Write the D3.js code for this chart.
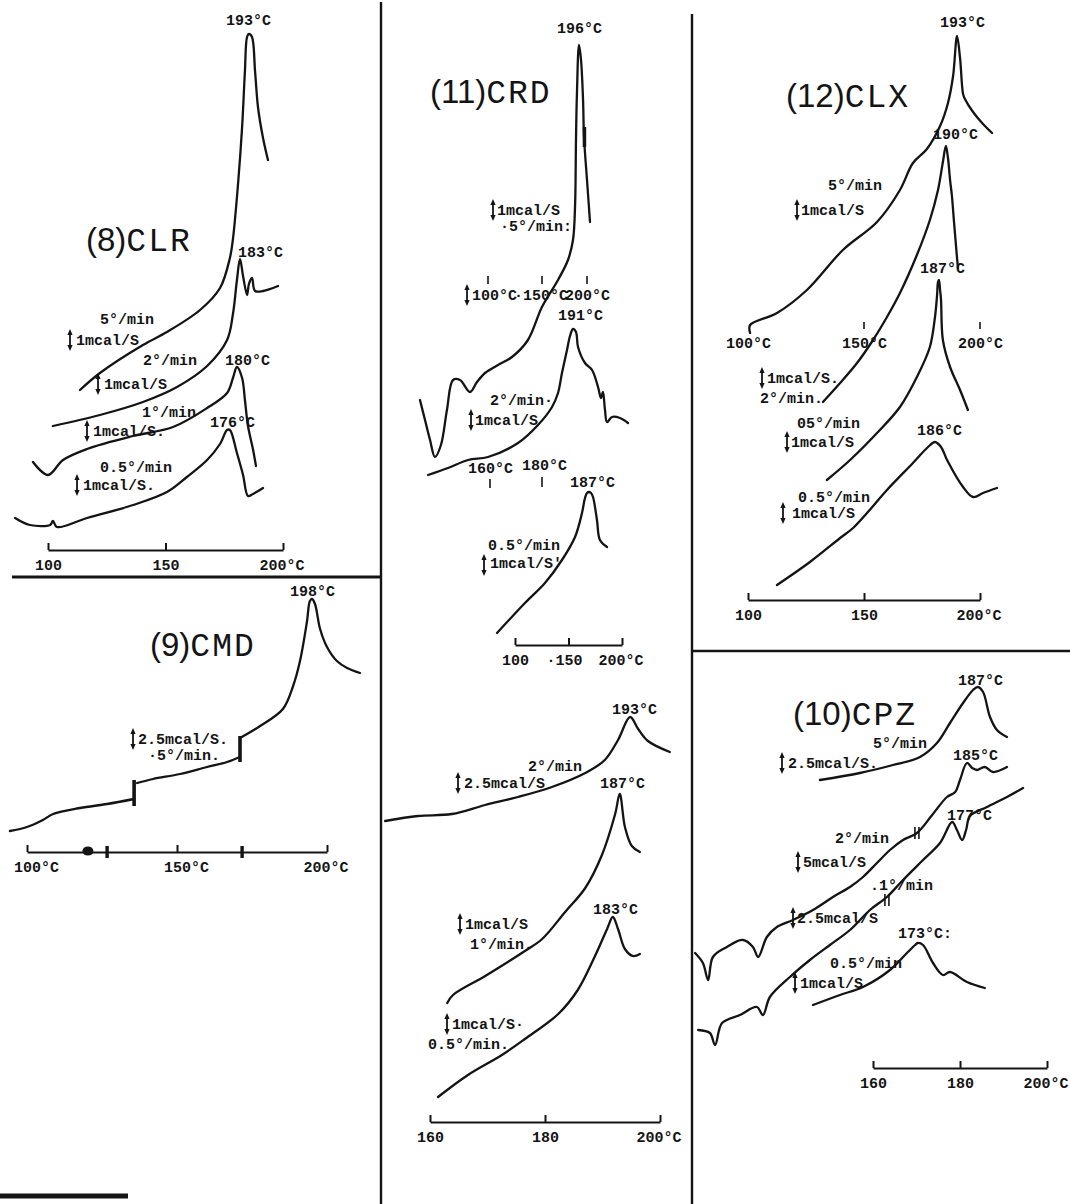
<!DOCTYPE html>
<html><head><meta charset="utf-8">
<script src="https://cdn.jsdelivr.net/npm/d3@7"></script>
<style>
body{margin:0;background:#fff;}
svg{display:block;background:#fff}
.lbl{font-family:"Liberation Mono","DejaVu Sans Mono",monospace;font-weight:bold;font-size:15px;fill:#141414}
.ttl{font-size:33px;fill:#141414}
.curve{fill:none;stroke:#141414;stroke-width:2.3;stroke-linejoin:round;stroke-linecap:round}
.axis path,.axis line{stroke:#141414;stroke-width:2}
.axis text{font-family:"Liberation Mono","DejaVu Sans Mono",monospace;font-weight:bold;font-size:15px;fill:#141414}
</style></head><body>
<svg id="c" width="1070" height="1204"></svg>
<script>
// ---------------- DATA (temperature °C, heat flow in arbitrary units) ----------------
// (8) CLR
const clrRates = ["5°/min", "2°/min", "1°/min", "0.5°/min"];
const clrPeaks = [193, 183, 180, 176];
const clr5 = [[113.6,16.0],[122.1,17.7],[140.4,20.5],[150.6,21.8],[164.7,24.0],[173.2,26.2],[177.4,29.2],[178.7,31.1],[180.9,36.7],[182.6,42.3],[183.8,47.9],[184.7,51.3],[185.5,51.6],[186.8,51.3],[188.1,47.9],[189.4,44.2],[191.5,41.2],[193.6,39.0]];
const clr2 = [[102.1,12.4],[122.1,13.5],[140.4,14.8],[154.9,16.3],[167.7,18.4],[176.2,21.0],[178.7,23.6],[180.4,27.0],[181.7,29.1],[183.0,27.4],[184.7,25.5],[185.5,26.6],[186.8,27.2],[188.1,25.9],[191.5,25.9],[197.9,26.4]];
const clr1 = [[93.6,8.8],[100,7.5],[106.4,9.0],[116.6,10.1],[136.2,11.4],[153.2,12.3],[167.7,14.2],[176.2,15.7],[178.7,17.2],[180.4,18.3],[182.6,17.2],[183.8,15.0],[185.1,12.4],[187.2,10.1],[188.5,8.4]];
const clr05 = [[86.0,3.2],[92.3,2.5],[100.9,2.5],[102.1,2.9],[103.8,2.3],[116.6,3.2],[136.2,4.5],[150.6,5.8],[159.1,7.3],[167.7,9.0],[173.2,10.6],[176.2,12.0],[177.4,12.0],[180.4,9.7],[183.0,7.5],[185.1,5.4],[187.2,5.6],[191.5,6.2]];
const clrTicks = [100, 150, 200];
const clrTickLabels = ["100", "150", "200°C"];

// (12) CLX
const clxRates = ["5°/min", "2°/min.", "05°/min", "0.5°/min"];
const clxPeaks = [193, 190, 187, 186];
const clx5 = [[100.9,26.7],[100.9,27.5],[112.5,28.7],[125.4,31.0],[140.9,35.0],[155.6,37.8],[165.5,41.0],[171.1,43.7],[177.1,45.1],[182.8,47.4],[186.2,49.7],[188.4,52.4],[190.1,56.4],[191.4,54.2],[192.7,50.6],[193.5,50.1],[197.0,48.8],[201.3,47.6],[205.2,46.7]];
const clx2 = [[132.3,19.8],[139.7,21.7],[147.0,23.7],[153.9,26.0],[159.9,28.3],[165.5,30.7],[172.8,34.5],[178.4,38.0],[181.9,41.0],[184.0,43.8],[185.3,45.4],[186.2,44.2],[187.1,42.0],[187.9,40.4],[188.8,37.8],[190.1,34.2],[190.5,33.2]];
const clx05a = [[134.0,12.0],[144.0,14.0],[155.6,16.7],[165.5,19.3],[172.8,22.3],[178.4,25.3],[180.6,28.3],[181.5,30.5],[181.9,31.8],[182.3,32.0],[182.8,31.0],[183.2,30.0],[184.0,26.0],[187.1,23.3],[191.4,21.0],[194.8,19.0]];
const clx05b = [[112.5,1.5],[126.7,3.8],[139.7,6.2],[145.3,7.2],[151.3,8.7],[159.9,11.0],[171.1,13.7],[177.6,15.3],[180.6,15.8],[183.2,15.3],[185.8,14.0],[192.7,11.3],[197.0,10.3],[201.3,10.7],[207.3,11.2]];
const clxInlineTicks = [100, 150, 200];
const clxTicks = [100, 150, 200];
const clxTickLabels = ["100", "150", "200°C"];

// (11) CRD
const crdRates = ["5°/min", "2°/min", "0.5°/min"];
const crdPeaks = [196, 191, 187];
const crd5 = [[11.2,24.5],[15.9,22.5],[20.6,20.5],[25.2,18.8],[30.8,20.0],[36.4,23.5],[42.1,26.5],[48.6,26.5],[57.9,25.3],[64.5,26.3],[72.0,27.2],[84.1,28.0],[97.2,28.8],[112.1,30.5],[125.2,33.8],[140.2,36.5],[149.5,38.5],[154.2,40.5],[156.1,43.8],[157.0,50.5],[157.9,55.2],[159.8,60.0],[161.7,58.5],[163.6,54.5],[164.5,50.8],[167.3,46.5],[170.1,42.3]];
const crd2 = [[18.7,17.0],[37.4,17.7],[56.1,18.5],[74.8,18.8],[102.8,20.2],[121.5,22.0],[134.6,23.8],[140.2,25.2],[143.9,27.2],[148.6,29.5],[151.4,30.9],[154.2,31.6],[157.0,31.3],[158.9,29.8],[165.4,28.2],[172.0,27.5],[177.6,25.8],[180.4,24.7],[182.2,25.3],[184.1,23.5],[186.0,22.3],[190.7,22.8],[198.1,22.7],[205.6,22.2]];
const crd05 = [[83.2,1.2],[109.3,4.2],[128.0,6.2],[143.9,8.5],[156.1,10.8],[162.6,13.2],[165.4,14.7],[167.3,15.2],[169.2,15.3],[171.0,15.2],[172.9,14.8],[176.6,12.5],[179.4,10.5],[186.0,9.8]];
const crdTicks = [100, 150, 200];
const crdTickLabels = ["100", "·150", "200°C"];

// lower middle (no title)
const midRates = ["2°/min", "1°/min.", "0.5°/min."];
const midPeaks = [193, 187, 183];
const mid2 = [[152.2,30.1],[157.9,30.6],[163.8,30.8],[169.6,31.7],[175.3,32.5],[181.2,33.5],[187.0,34.9],[190.4,36.2],[192.7,38.2],[194.8,40.5],[196.2,39.3],[197.9,38.1],[201.7,37.0]];
const mid1 = [[163.0,11.9],[164.0,12.7],[169.6,14.6],[176.5,17.1],[179.5,18.3],[183.5,21.0],[187.0,23.4],[189.9,26.7],[192.2,30.8],[193.0,32.8],[193.9,29.5],[195.1,27.6],[196.5,27.0]];
const mid05 = [[161.4,2.5],[166.6,4.7],[172.5,6.7],[176.5,8.3],[182.3,10.8],[185.7,13.2],[188.7,16.6],[190.8,19.3],[191.8,20.5],[192.7,19.3],[193.9,17.3],[195.3,16.6],[196.5,16.8]];
const midTicks = [160, 180, 200];
const midTickLabels = ["160", "180", "200°C"];

// (9) CMD
const cmdRates = ["5°/min."];
const cmdPeaks = [198];
const cmdSeg1 = [[94.3,2.1],[100,2.5],[105.3,3.2],[108.7,3.8],[117.7,4.4],[126.7,4.8],[135.7,5.3]];
const cmdSeg2 = [[136.7,6.9],[142.0,7.3],[151.0,7.8],[160.0,8.5],[166.7,9.0],[171.0,9.5]];
const cmdSeg3 = [[171.0,11.4],[177.7,12.6],[185.3,14.3],[188.7,16.6],[191.0,19.1],[193.3,23.0],[194.3,25.1],[195.0,25.3],[196.0,24.8],[197.7,22.3],[200.0,20.5],[203.3,19.1],[206.7,18.4],[211.0,17.9]];
const cmdSteps = [[135.7,4.6,7.2],[171.0,9.0,11.6]];
const cmdAxisMarks = [126.7, 171.7];
const cmdAxisDot = [120.3];
const cmdTicks = [100, 150, 200];
const cmdTickLabels = ["100°C", "150°C", "200°C"];

// (10) CPZ
const cpzRates = ["5°/min", "2°/min", ".1°/min", "0.5°/min"];
const cpzPeaks = [187, 185, 177, 173];
const cpz5 = [[147.8,28.8],[157.0,29.5],[164.6,30.3],[170.8,31.1],[174.7,32.5],[177.7,34.5],[180.7,36.5],[183.0,37.8],[184.1,38.1],[185.3,37.6],[186.9,35.1],[188.5,33.8],[190.8,33.1]];
const cpz2 = [[119.1,11.5],[120.9,10.5],[122.1,8.8],[123.2,11.1],[126.4,12.1],[130.1,12.8],[132.4,12.1],[133.6,11.1],[135.6,13.1],[137.9,14.1],[141.6,14.8],[146.2,15.8],[150.8,17.1],[154.7,18.1],[157.7,19.1],[160.9,20.5],[163.9,21.8],[166.9,22.8],[170.1,23.5],[173.6,25.3],[177.0,27.1],[178.9,27.6],[180.0,28.8],[181.6,30.5],[182.8,30.0],[183.9,29.8],[185.7,30.1],[187.6,29.6],[190.8,30.1]];
const cpz1 = [[119.8,3.8],[122.5,3.5],[123.7,2.3],[125.3,4.5],[129.4,5.3],[133.3,6.1],[134.7,5.3],[136.3,7.1],[140.9,9.1],[145.5,10.8],[150.1,12.3],[154.7,13.8],[159.3,15.8],[163.2,17.1],[166.9,18.8],[171.5,20.8],[175.4,22.5],[178.2,24.6],[179.3,23.8],[180.5,22.8],[181.4,23.8],[182.3,25.2],[186.2,26.1],[190.8,27.1],[194.5,28.0]];
const cpz05 = [[146.2,6.3],[152.4,7.3],[157.7,8.1],[163.9,9.8],[167.8,11.5],[169.7,12.3],[170.3,12.5],[171.5,12.3],[173.8,10.5],[176.1,9.3],[177.7,9.6],[181.6,8.6],[185.7,8.0]];
const cpzMarks = [[170.1,23.5],[163.2,16.8]];
const cpzTicks = [160, 180, 200];
const cpzTickLabels = ["160", "180", "200°C"];

// ---------------- LAYOUT ----------------
const svg = d3.select("#c");
const ink = "#141414";

function mkScales(xd, xr, y0) {
  return {
    x: d3.scaleLinear().domain(xd).range(xr),
    y: d3.scaleLinear().domain([0, 10]).range([y0, y0 - 100])
  };
}
const P8  = mkScales([100,200],[48,283],550);
const P12 = mkScales([100,200],[748,980],600);
const P11 = mkScales([100,200],[515,622],645);
const PM  = mkScales([160,200],[430,660],1122);
const P9  = mkScales([100,200],[27,327],852);
const P10 = mkScales([160,200],[873,1047],1068);

function curve(P, data, w) {
  const line = d3.line().x(d => P.x(d[0])).y(d => P.y(d[1])).curve(d3.curveCatmullRom.alpha(0.5));
  svg.append("path").attr("class","curve").attr("d", line(data)).style("stroke-width", w || 2.3);
}
function axis(P, ticks, labels) {
  const ax = d3.axisBottom(P.x).tickValues(ticks).tickSize(-7).tickSizeOuter(0)
    .tickFormat((d,i) => labels[i]);
  const g = svg.append("g").attr("class","axis").attr("transform", `translate(0,${P.y(0)})`).call(ax);
  const n = labels.length;
  g.selectAll("text").attr("y", 9)
    .attr("text-anchor", (d,i) => i === n - 1 ? "end" : "start")
    .attr("x", (d,i) => i === n - 1 ? 21 : -13.5 - (labels[i].startsWith("·") ? 9 : 0));
}
function txt(t, x, y, cls) {
  return svg.append("text").attr("class", cls || "lbl").attr("x", x).attr("y", y).text(t);
}
function darrow(x, cy, h) {
  h = h || 22;
  const t = cy - h/2, b = cy + h/2;
  svg.append("line").attr("x1",x).attr("x2",x).attr("y1",t+4).attr("y2",b-4).attr("stroke",ink).attr("stroke-width",1.8);
  svg.append("path").attr("d",`M${x-2.6},${t+6}L${x},${t}L${x+2.6},${t+6}Z`).attr("fill",ink);
  svg.append("path").attr("d",`M${x-2.6},${b-6}L${x},${b}L${x+2.6},${b-6}Z`).attr("fill",ink);
}
function title(x, y, num, name) {
  const t = svg.append("text").attr("class","ttl").attr("x",x).attr("y",y);
  t.append("tspan").style("font-family","'Liberation Sans',Arial,sans-serif").text(`(${num})`);
  t.append("tspan").style("font-family","'Liberation Mono',monospace").style("letter-spacing","2px").text(name);
}
function rule(x1,y1,x2,y2,w){
  svg.append("line").attr("x1",x1).attr("y1",y1).attr("x2",x2).attr("y2",y2).attr("stroke",ink).attr("stroke-width",w);
}
const deg = v => `${v}°C`;

// dividers
rule(381,2,381,1204,2.4);
rule(692,14,692,1204,2.4);
rule(12,577,381,577,3.2);
rule(692,651,1070,651,2.6);
rule(0,1196,128,1196,5);

// ---- (8) CLR ----
[clr5, clr2, clr1, clr05].forEach(d => curve(P8, d));
axis(P8, clrTicks, clrTickLabels);
title(86, 251, 8, "CLR");
txt(deg(clrPeaks[0]), 226, 25);
txt(deg(clrPeaks[1]), 238, 257);
txt(deg(clrPeaks[2]), 225, 365);
txt(deg(clrPeaks[3]), 210, 427);
txt(clrRates[0], 100, 324); darrow(70, 340); txt("1mcal/S", 76, 345);
txt(clrRates[1], 143, 365); darrow(98, 384); txt("1mcal/S", 104, 389);
txt(clrRates[2], 142, 417); darrow(87, 431); txt("1mcal/S.", 93, 436);
txt(clrRates[3], 100, 472); darrow(77, 485); txt("1mcal/S.", 83, 490);

// ---- (12) CLX ----
[clx5, clx2, clx05a, clx05b].forEach(d => curve(P12, d));
axis(P12, clxTicks, clxTickLabels);
title(786, 107, 12, "CLX");
txt(deg(clxPeaks[0]), 940, 27);
txt(deg(clxPeaks[1]), 933, 139);
txt(deg(clxPeaks[2]), 920, 273);
txt(deg(clxPeaks[3]), 917, 435);
txt(clxRates[0], 828, 190); darrow(797, 210); txt("1mcal/S", 801, 215);
clxInlineTicks.forEach((t,i) => {
  if (i > 0) rule(P12.x(t), P12.y(27.8), P12.x(t), P12.y(27.1), 1.6);
  txt(deg(t), P12.x(t) - 22, P12.y(25.2));
});
darrow(762, 378); txt("1mcal/S.", 767, 383);
txt(clxRates[1], 760, 403);
txt(clxRates[2], 797, 428); darrow(787, 442); txt("1mcal/S", 791, 447);
txt(clxRates[3], 798, 502); darrow(783, 513); txt("1mcal/S", 792, 518);

// ---- (11) CRD ----
[crd5, crd2, crd05].forEach(d => curve(P11, d));
rule(P11.x(164.9), P11.y(51.8), P11.x(164.9), P11.y(49.8), 3.5);
axis(P11, crdTicks, crdTickLabels);
title(430, 103, 11, "CRD");
txt(deg(crdPeaks[0]), 557, 33);
txt(deg(crdPeaks[1]), 558, 320);
txt(deg(crdPeaks[2]), 570, 487);
darrow(493, 210); txt("1mcal/S", 497, 215);
txt("·" + crdRates[0] + ":", 500, 231);
darrow(467, 295); txt("100°C", 472, 300); txt("·150°C", 514, 300); txt("200°C", 565, 300);
[488, 542, 587].forEach(x => rule(x, 276, x, 284, 1.6));
txt(crdRates[1] + "·", 490, 405); darrow(471, 420); txt("1mcal/S", 475, 425);
txt("160°C", 468, 473); rule(490, 479, 490, 488, 1.6);
txt("180°C", 522, 470); rule(542, 477, 542, 487, 1.6);
txt(crdRates[2], 488, 550); darrow(484, 565); txt("1mcal/S'", 490, 568);

// ---- lower middle ----
[mid2, mid1, mid05].forEach(d => curve(PM, d));
axis(PM, midTicks, midTickLabels);
txt(deg(midPeaks[0]), 612, 714);
txt(deg(midPeaks[1]), 600, 788);
txt(deg(midPeaks[2]), 593, 914);
txt(midRates[0], 528, 771); darrow(458, 783); txt("2.5mcal/S", 464, 788);
darrow(460, 924); txt("1mcal/S", 465, 929); txt(midRates[1], 470, 949);
darrow(447, 1024); txt("1mcal/S·", 452, 1029); txt(midRates[2], 428, 1049);

// ---- (9) CMD ----
[cmdSeg1, cmdSeg2, cmdSeg3].forEach(d => curve(P9, d));
cmdSteps.forEach(s => rule(P9.x(s[0]), P9.y(s[1]), P9.x(s[0]), P9.y(s[2]), 3.6));
axis(P9, cmdTicks, cmdTickLabels);
cmdAxisMarks.forEach(t => rule(P9.x(t), P9.y(0) - 6, P9.x(t), P9.y(0) + 6, 3.4));
cmdAxisDot.forEach(t => svg.append("ellipse").attr("cx", P9.x(t)).attr("cy", P9.y(0) - 1).attr("rx", 5.5).attr("ry", 4.5).attr("fill", ink));
title(150, 656, 9, "CMD");
txt(deg(cmdPeaks[0]), 290, 596);
darrow(133, 739); txt("2.5mcal/S.", 138, 744);
txt("·" + cmdRates[0], 148, 760);

// ---- (10) CPZ ----
[cpz5, cpz2, cpz1, cpz05].forEach(d => curve(P10, d));
cpzMarks.forEach(m => {
  const x = P10.x(m[0]), y = P10.y(m[1]);
  rule(x - 2, y - 6, x - 2, y + 6, 1.6); rule(x + 2, y - 6, x + 2, y + 6, 1.6);
});
axis(P10, cpzTicks, cpzTickLabels);
title(793, 725, 10, "CPZ");
txt(deg(cpzPeaks[0]), 958, 685);
txt(deg(cpzPeaks[1]), 953, 760);
txt(deg(cpzPeaks[2]), 947, 820);
txt(deg(cpzPeaks[3]) + ":", 898, 938);
txt(cpzRates[0], 873, 748); darrow(782, 763); txt("2.5mcal/S.", 788, 768);
txt(cpzRates[1], 835, 843); darrow(798, 862); txt("5mcal/S", 803, 867);
txt(cpzRates[2], 870, 890); darrow(793, 918); txt("2.5mcal/S", 797, 923);
txt(cpzRates[3], 830, 968); darrow(795, 983); txt("1mcal/S", 800, 988);
</script>
</body></html>
